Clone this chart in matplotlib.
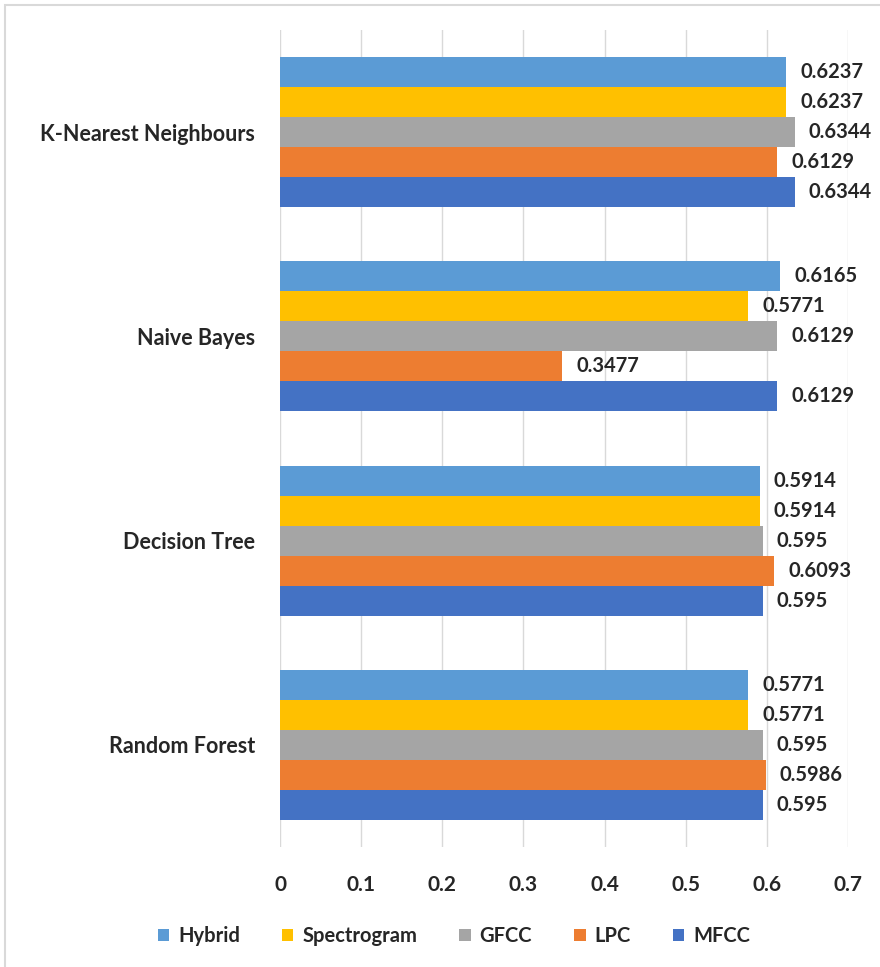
import matplotlib
matplotlib.use("Agg")
import matplotlib.pyplot as plt
from matplotlib.patches import Rectangle
import numpy as np

plt.rcParams['font.family'] = ['Lato', 'DejaVu Sans']

categories = ["Random Forest", "Decision Tree", "Naive Bayes", "K-Nearest Neighbours"]
series_names = ["Hybrid", "Spectrogram", "GFCC", "LPC", "MFCC"]
hybrid = [0.5771, 0.5914, 0.6165, 0.6237]
spectrogram = [0.5771, 0.5914, 0.5771, 0.6237]
gfcc = [0.595, 0.595, 0.6129, 0.6344]
lpc = [0.5986, 0.6093, 0.3477, 0.6129]
mfcc = [0.595, 0.595, 0.6129, 0.6344]
xticks = [0, 0.1, 0.2, 0.3, 0.4, 0.5, 0.6, 0.7]

colors = ["#5B9BD5", "#FFC000", "#A5A5A5", "#ED7D31", "#4472C4"]
series = [hybrid, spectrogram, gfcc, lpc, mfcc]

W, H = 880, 967
fig = plt.figure(figsize=(W / 100, H / 100), dpi=100)
ax = fig.add_axes([280 / W, 1 - 847 / H, (848 - 280) / W, (847 - 30) / H])

# figure border
fig.patches.append(Rectangle((5 / W, -0.1), 1.2, 1 - 5 / H + 0.1, transform=fig.transFigure,
                             fill=False, edgecolor="#D9D9D9", linewidth=1.5))

y = np.arange(len(categories))
h = 0.147
offsets = [2 * h, h, 0, -h, -2 * h]
for vals, name, c, off in zip(series, series_names, colors, offsets):
    ax.barh(y + off, vals, height=h, color=c, label=name, zorder=3)
    for yy, v in zip(y + off, vals):
        ax.annotate(f"{v:g}", xy=(v, yy), xytext=(14, 0), textcoords="offset pixels",
                    ha="left", va="center", fontsize=14.5, fontweight="bold",
                    color="#262626", annotation_clip=False)

ax.set_xlim(0, 0.7)
ax.set_ylim(-0.5, len(categories) - 0.5)
ax.set_xticks(xticks)
ax.set_xticklabels([f"{t:g}" for t in xticks], fontsize=15, fontweight="bold", color="#262626")
ax.set_yticks(y)
ax.set_yticklabels(categories, fontsize=15.5, fontweight="bold", color="#262626")
ax.tick_params(axis="x", length=0, pad=20)
ax.tick_params(axis="y", length=0, pad=18)
ax.grid(axis="x", color="#D9D9D9", linewidth=1, zorder=0)
for s in ax.spines.values():
    s.set_visible(False)

handles, labels = ax.get_legend_handles_labels()
leg = fig.legend(handles, labels, loc="center", bbox_to_anchor=(454 / W, 1 - 936 / H), ncol=5,
                 frameon=False, handlelength=0.55, handleheight=0.55, handletextpad=0.45,
                 columnspacing=2.1, prop={"weight": "bold", "size": 14.5})
for t in leg.get_texts():
    t.set_color("#262626")

fig.savefig("out.png", dpi=100)
